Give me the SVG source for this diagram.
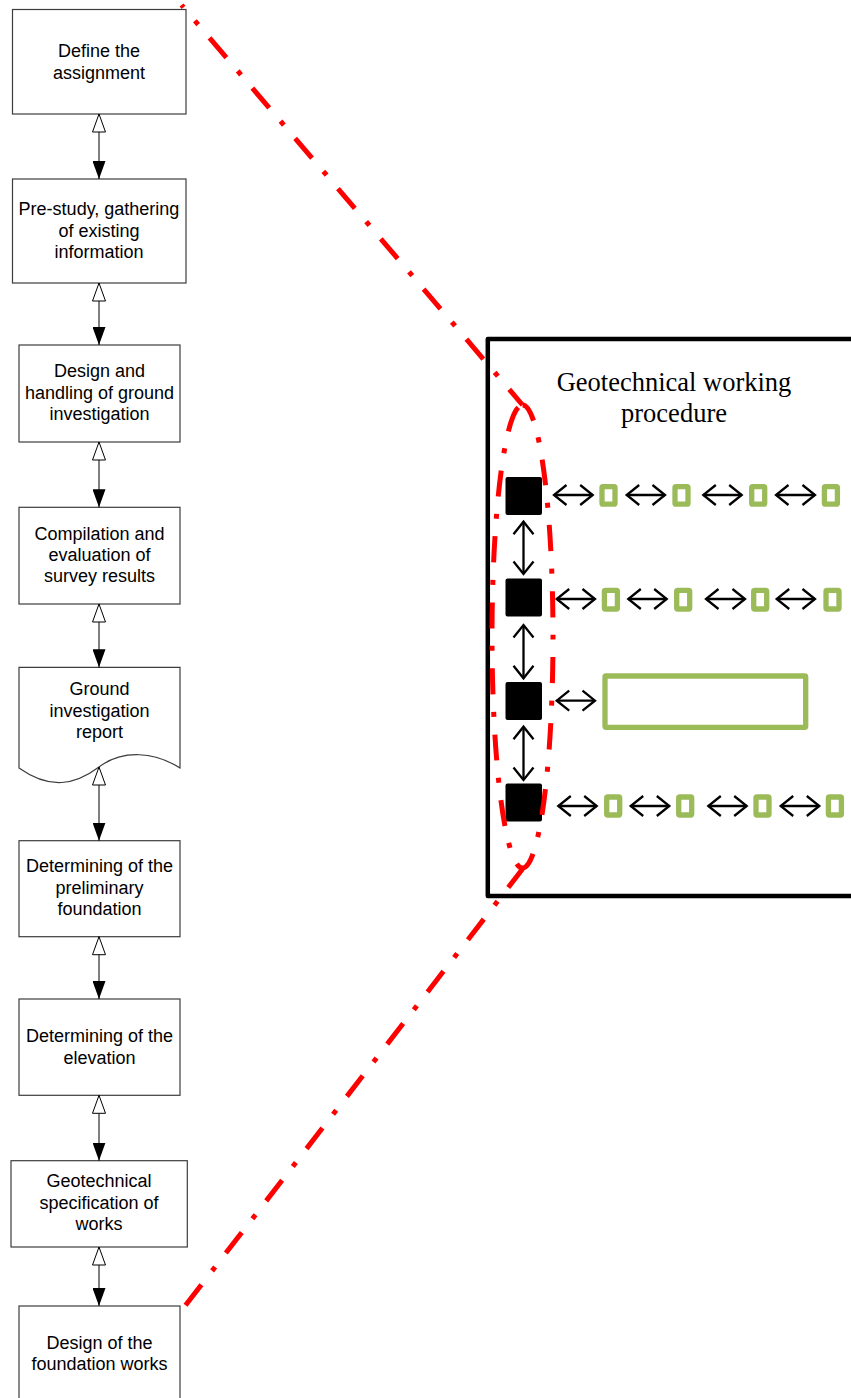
<svg xmlns="http://www.w3.org/2000/svg" width="851" height="1398" viewBox="0 0 851 1398">
  <style>
    .box { fill: #ffffff; stroke: #3c3c3c; stroke-width: 1.2; }
    .lbl { font-family: "Liberation Sans", Arial, sans-serif; font-size: 18px; fill: #000; text-anchor: middle; }
    .title { font-family: "Liberation Serif", "Times New Roman", serif; font-size: 26.5px; fill: #000; text-anchor: middle; }
    .flow { stroke: #000; stroke-width: 1; fill: none; marker-start: url(#hollowHead); marker-end: url(#solidHead); }
    .dbl { stroke: #000; stroke-width: 2.3; fill: none; marker-start: url(#chev); marker-end: url(#chev); }
    .step { fill: #000; }
    .item { fill: none; stroke: #9bbb59; stroke-width: 5.3; }
    .frame { fill: none; stroke: #000; stroke-width: 4.5; stroke-linejoin: round; }
    .zoomline { fill: none; stroke: #ff0000; stroke-width: 5; stroke-dasharray: 26 17.5 5 17.5; }
  </style>
  <defs>
    <marker id="solidHead" viewBox="0 0 18 13" refX="18" refY="6.5" markerWidth="18" markerHeight="13" markerUnits="userSpaceOnUse" orient="auto">
      <path d="M0,0 L18,6.5 L0,13 z" fill="#000"/>
    </marker>
    <marker id="hollowHead" viewBox="-1 -1 20 15" refX="18" refY="6.5" markerWidth="20" markerHeight="15" markerUnits="userSpaceOnUse" orient="auto-start-reverse">
      <path d="M0,0 L18,6.5 L0,13 z" fill="#fff" stroke="#000" stroke-width="1"/>
    </marker>
    <marker id="chev" viewBox="-2 -2 17 24" refX="12.5" refY="10" markerWidth="17" markerHeight="24" markerUnits="userSpaceOnUse" orient="auto-start-reverse">
      <path d="M0,0 L12.5,10 L0,20" fill="none" stroke="#000" stroke-width="2.3"/>
    </marker>
  </defs>

  <!-- process steps -->
  <g id="step-define">
    <rect class="box" x="12.5" y="9.5" width="173.5" height="104.5"/>
    <text class="lbl" x="99" y="57">Define the</text>
    <text class="lbl" x="99" y="78.5">assignment</text>
  </g>
  <g id="step-prestudy">
    <rect class="box" x="12.5" y="179" width="173.5" height="104"/>
    <text class="lbl" x="99" y="215">Pre-study, gathering</text>
    <text class="lbl" x="99" y="236.5">of existing</text>
    <text class="lbl" x="99" y="258">information</text>
  </g>
  <g id="step-design-gi">
    <rect class="box" x="19" y="345" width="161" height="97"/>
    <text class="lbl" x="99.5" y="377">Design and</text>
    <text class="lbl" x="99.5" y="398.5">handling of ground</text>
    <text class="lbl" x="99.5" y="420">investigation</text>
  </g>
  <g id="step-compilation">
    <rect class="box" x="19" y="507.3" width="161" height="96.7"/>
    <text class="lbl" x="99.5" y="540">Compilation and</text>
    <text class="lbl" x="99.5" y="561">evaluation of</text>
    <text class="lbl" x="99.5" y="582">survey results</text>
  </g>
  <g id="step-report">
    <path class="box" d="M19,667.3 H180 V768 C155,752 123,749 99,767 C75,785 50,790 19,768 Z"/>
    <text class="lbl" x="99.5" y="695">Ground</text>
    <text class="lbl" x="99.5" y="716.5">investigation</text>
    <text class="lbl" x="99.5" y="738">report</text>
  </g>
  <g id="step-preliminary">
    <rect class="box" x="19" y="840.7" width="161" height="96"/>
    <text class="lbl" x="99.5" y="872">Determining of the</text>
    <text class="lbl" x="99.5" y="893.5">preliminary</text>
    <text class="lbl" x="99.5" y="915">foundation</text>
  </g>
  <g id="step-elevation">
    <rect class="box" x="19" y="999" width="161" height="96.3"/>
    <text class="lbl" x="99.5" y="1042">Determining of the</text>
    <text class="lbl" x="99.5" y="1063.5">elevation</text>
  </g>
  <g id="step-specification">
    <rect class="box" x="11" y="1160.7" width="176.3" height="86.3"/>
    <text class="lbl" x="99" y="1187">Geotechnical</text>
    <text class="lbl" x="99" y="1208.5">specification of</text>
    <text class="lbl" x="99" y="1230">works</text>
  </g>
  <g id="step-foundation-design">
    <rect class="box" x="19" y="1306" width="161" height="100"/>
    <text class="lbl" x="99.5" y="1348.5">Design of the</text>
    <text class="lbl" x="99.5" y="1370">foundation works</text>
  </g>

  <!-- detail panel -->
  <g id="procedure-panel">
    <path class="frame" d="M860,339 H487.8 V896 H860"/>
    <text class="title" x="674" y="391">Geotechnical working</text>
    <text class="title" x="674" y="422">procedure</text>
  </g>
  <g id="procedure-steps">
    <rect class="step" x="505.5" y="477" width="36.5" height="38" rx="2"/>
    <rect class="step" x="505.5" y="578.5" width="36.5" height="38" rx="2"/>
    <rect class="step" x="505.5" y="682" width="36.5" height="38" rx="2"/>
    <rect class="step" x="505.5" y="783.5" width="36.5" height="38" rx="2"/>
  </g>
  <g id="procedure-items">
    <rect class="item" x="602" y="486.7" width="13" height="17.5" rx="1"/>
    <rect class="item" x="675" y="486.7" width="13" height="17.5" rx="1"/>
    <rect class="item" x="751.7" y="486.7" width="13" height="17.5" rx="1"/>
    <rect class="item" x="824.4" y="486.7" width="13" height="17.5" rx="1"/>

    <rect class="item" x="604.4" y="590.4" width="13" height="18.6" rx="1"/>
    <rect class="item" x="676.7" y="590.4" width="13" height="18.6" rx="1"/>
    <rect class="item" x="753.7" y="590.4" width="13" height="18.6" rx="1"/>
    <rect class="item" x="826" y="590.4" width="13" height="18.6" rx="1"/>

    <rect class="item" x="605" y="676" width="200.7" height="51.3" rx="1"/>

    <rect class="item" x="606.7" y="797" width="13" height="18" rx="1"/>
    <rect class="item" x="678.7" y="797" width="13" height="18" rx="1"/>
    <rect class="item" x="756" y="797" width="13" height="18" rx="1"/>
    <rect class="item" x="828.4" y="797" width="13" height="18" rx="1"/>
  </g>

  <!-- connectors -->
  <g id="connectors">
    <path class="flow" d="M99,114 V179"/>
    <path class="flow" d="M99,283 V345"/>
    <path class="flow" d="M99,442 V507.3"/>
    <path class="flow" d="M99,604 V667.3"/>
    <path class="flow" d="M99,767 V840.7"/>
    <path class="flow" d="M99,936.7 V999"/>
    <path class="flow" d="M99,1095.3 V1160.7"/>
    <path class="flow" d="M99,1247 V1306"/>

    <path class="dbl" d="M523.5,521.7 V574"/>
    <path class="dbl" d="M523.5,625 V678.3"/>
    <path class="dbl" d="M523.5,726.7 V780"/>

    <path class="dbl" d="M554,495 H592.7"/>
    <path class="dbl" d="M626.7,495 H665"/>
    <path class="dbl" d="M703.3,495 H741.7"/>
    <path class="dbl" d="M776,495 H815"/>

    <path class="dbl" d="M556.7,599 H595"/>
    <path class="dbl" d="M628.3,599 H666.7"/>
    <path class="dbl" d="M706,599 H745"/>
    <path class="dbl" d="M776.7,599 H815"/>

    <path class="dbl" d="M556.7,700.7 H595"/>

    <path class="dbl" d="M558.3,806 H596.7"/>
    <path class="dbl" d="M630.7,806 H669.3"/>
    <path class="dbl" d="M708.3,806 H746.7"/>
    <path class="dbl" d="M780.7,806 H819.3"/>
  </g>

  <!-- zoom-out guide lines and enclosing oval -->
  <g id="zoom-guides">
    <path class="zoomline" stroke-dashoffset="22.8" d="M181.5,5 L522.5,405"/>
    <path class="zoomline" stroke-dashoffset="6" d="M522.5,405 A30.5,231.5 0 0 1 522.5,868 A30.5,231.5 0 0 1 522.5,405"/>
    <path class="zoomline" stroke-dashoffset="2.7" d="M522.5,869 L185,1306"/>
  </g>
</svg>
